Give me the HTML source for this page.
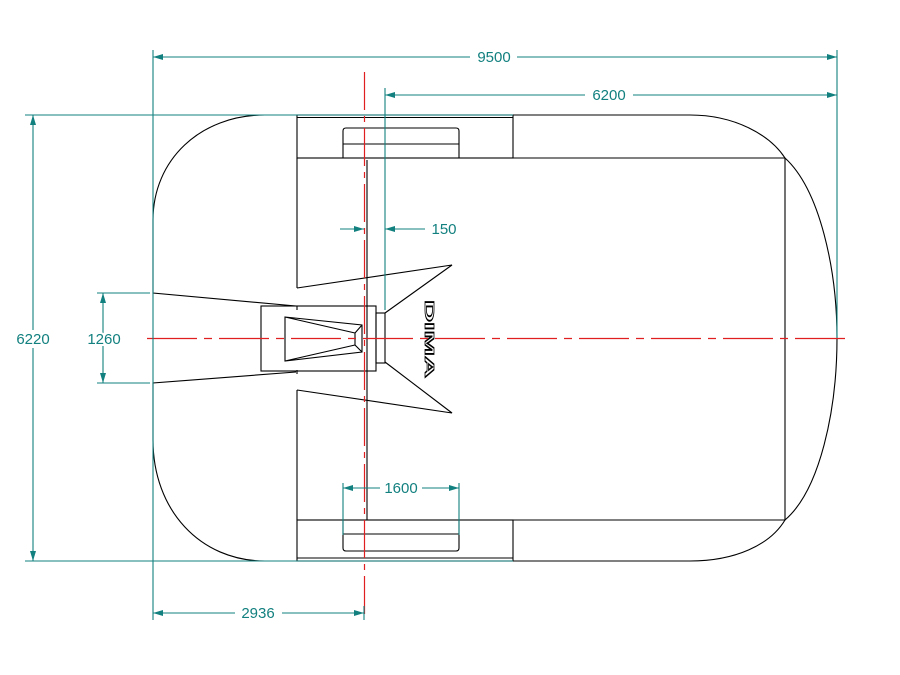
<!DOCTYPE html>
<html><head><meta charset="utf-8"><style>html,body{margin:0;padding:0;background:#fff}svg{display:block}</style></head>
<body>
<svg width="900" height="675" viewBox="0 0 900 675" xmlns="http://www.w3.org/2000/svg">
<defs>
<marker id="a" viewBox="0 0 10 6" refX="10" refY="3" markerWidth="10" markerHeight="6" orient="auto-start-reverse" markerUnits="userSpaceOnUse"><path d="M0,0 L10,3 L0,6 z" fill="#12807f"/></marker>
</defs>
<g fill="none" stroke="#000" stroke-width="1.1">
<!-- outer body -->
<path d="M265,115 C200,115 153,160 153,220 L153,293 L296,306"/>
<path d="M296,372 L153,383 L153,440 C153,510 200,561 265,561 L297,561"/>
<path d="M265,115 L297,115"/>
<path d="M513,115 L690,115 C735,115 770,135 785,158 C820,190 837,270 837,338 C837,410 820,490 785,520 C770,545 735,561 690,561 L513,561"/>
<!-- main inner rect -->
<path d="M297,158 L785,158 L785,520 L297,520"/>
<path d="M297,158 L297,288 M297,390 L297,520"/>
<path d="M297,306 L297,310 M297,370 L297,374"/>
<!-- top band -->
<rect x="297" y="115" width="216" height="43"/>
<path d="M297,117.5 L513,117.5"/>
<path d="M343,158 L343,131 Q343,128 346,128 L456,128 Q459,128 459,131 L459,158 M343,144 L459,144"/>
<!-- bottom band -->
<rect x="297" y="520" width="216" height="41"/>
<path d="M297,558 L513,558"/>
<path d="M343,520 L343,548 Q343,551 346,551 L456,551 Q459,551 459,548 L459,520 M343,534 L459,534"/>
<!-- wedges -->
<path d="M297,288 L452,265 L385,313"/>
<path d="M297,390 L452,413 L385,362"/>
<!-- nozzle -->
<rect x="261" y="306" width="115" height="65"/>
<rect x="376" y="313" width="9" height="50"/>
<path d="M285,317 L362,325 L362,352 L285,361 Z M355,333 L362,325 M355,333 L355,345 L362,352 M285,317 L355,333 M285,361 L355,345"/>
<path d="M367,160 L367,520"/>
</g>
<text transform="translate(424,300) rotate(90)" font-family="Liberation Sans, sans-serif" font-size="13" font-weight="bold" fill="none" stroke="#000" stroke-width="0.8" textLength="78" lengthAdjust="spacingAndGlyphs" y="-1">DIMA</text>
<!-- red centerlines -->
<g stroke="#e02020" stroke-width="1.2" fill="none">
<path d="M364.5,72 L364.5,618" stroke-dasharray="38,6,6,6"/>
<path d="M147,338.5 L845,338.5" stroke-dasharray="50,7,8,7"/>
</g>
<!-- dimensions -->
<g stroke="#12807f" stroke-width="1.1" fill="none">
<path d="M153,50 L153,620 M837,50 L837,338 M385,88 L385,310"/>
<path d="M25,115 L513,115 M25,561 L513,561 M97,293 L150,293 M97,383 L150,383"/>
<path d="M343,483 L343,535 M459,483 L459,535 M364,606 L364,620"/>
<path d="M153,57 L470,57 M517,57 L837,57" marker-start="url(#a)" marker-end="url(#a)"/>
<path d="M385,95 L585,95 M633,95 L837,95" marker-start="url(#a)" marker-end="url(#a)"/>
<path d="M33,115 L33,330 M33,348 L33,561" marker-start="url(#a)" marker-end="url(#a)"/>
<path d="M103,293 L103,383" marker-start="url(#a)" marker-end="url(#a)"/>
<path d="M340,229 L364,229" marker-end="url(#a)"/>
<path d="M425,229 L385,229" marker-end="url(#a)"/>
<path d="M343,488 L380,488 M422,488 L459,488" marker-start="url(#a)" marker-end="url(#a)"/>
<path d="M153,613 L235,613 M282,613 L364,613" marker-start="url(#a)" marker-end="url(#a)"/>
</g>
<g fill="#12807f" font-family="Liberation Sans, sans-serif" font-size="15">
<text x="494" y="62" text-anchor="middle">9500</text>
<text x="609" y="100" text-anchor="middle">6200</text>
<text x="33" y="344" text-anchor="middle" fill="#12807f" style="paint-order:stroke" stroke="#fff" stroke-width="4">6220</text>
<text x="104" y="344" text-anchor="middle" style="paint-order:stroke" stroke="#fff" stroke-width="4">1260</text>
<text x="444" y="234" text-anchor="middle">150</text>
<text x="401" y="493" text-anchor="middle">1600</text>
<text x="258" y="618" text-anchor="middle">2936</text>
</g>
</svg>
</body></html>
